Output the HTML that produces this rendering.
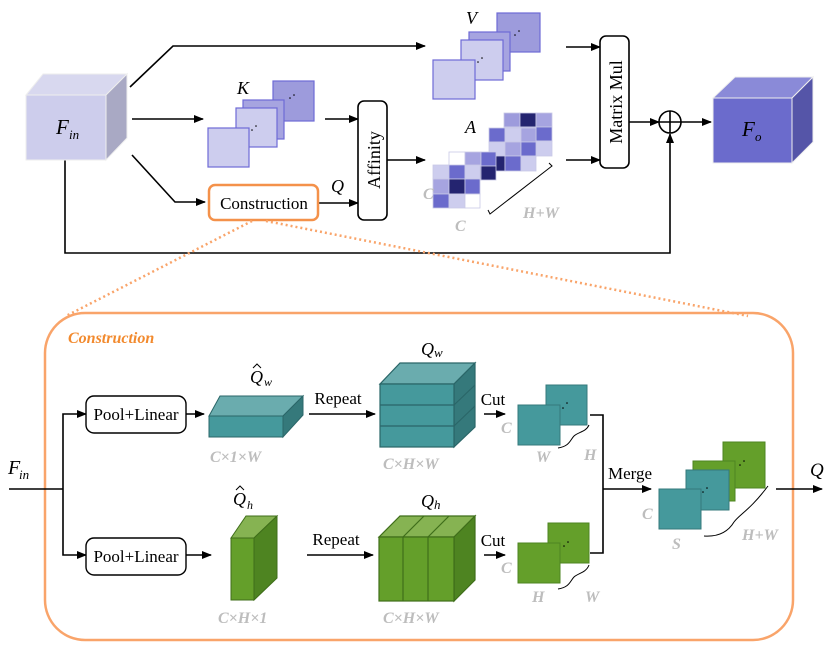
<!DOCTYPE html>
<html><head><meta charset="utf-8"><style>
body{margin:0;background:#fff}
svg{display:block}
text{font-family:"Liberation Serif",serif}
.g{fill:#bdbdbd;font-style:italic;font-weight:bold;font-size:16px}
.l{font-size:16px}
.i{font-style:italic}
</style></head><body>
<svg width="831" height="646" viewBox="0 0 831 646" xmlns="http://www.w3.org/2000/svg">
<defs>
<marker id="a" markerWidth="10" markerHeight="8" refX="9" refY="4" orient="auto" markerUnits="userSpaceOnUse"><path d="M0,0 L10,4 L0,8 z" fill="#000"/></marker>
</defs>
<g stroke="#000" stroke-width="1.6" fill="none">
<polyline points="130,87 173,46 425,46" marker-end="url(#a)"/>
<line x1="132" y1="119" x2="203" y2="119" marker-end="url(#a)"/>
<polyline points="132,155 175,202 205,202" marker-end="url(#a)"/>
<line x1="325" y1="119" x2="358" y2="119" marker-end="url(#a)"/>
<line x1="318" y1="203" x2="358" y2="203" marker-end="url(#a)"/>
<line x1="387" y1="160" x2="425" y2="160" marker-end="url(#a)"/>
<line x1="566" y1="47" x2="600" y2="47" marker-end="url(#a)"/>
<line x1="566" y1="160" x2="600" y2="160" marker-end="url(#a)"/>
<line x1="629" y1="122" x2="659" y2="122" marker-end="url(#a)"/>
<line x1="681" y1="122" x2="711" y2="122" marker-end="url(#a)"/>
<polyline points="65,160 65,253 670,253 670,134" marker-end="url(#a)"/>
<circle cx="670" cy="122" r="11" fill="#fff"/>
<line x1="659" y1="122" x2="681" y2="122"/><line x1="670" y1="111" x2="670" y2="133"/>
</g>
<polygon points="26,95 43,74 127,74 106,95" fill="#d8d8ef" stroke="#eee"/>
<polygon points="106,95 127,74 127,138 106,160" fill="#a9a9c4" stroke="#eee"/>
<rect x="26" y="95" width="80" height="65" fill="#cdcdec" stroke="#eee"/>
<text x="56" y="134" font-size="21" class="i">F</text><text x="69" y="139" font-size="13" class="i">in</text>
<g stroke="#6e6ad6" stroke-width="1.2">
<rect x="273" y="81" width="41" height="40" fill="#9d9bdc"/>
<rect x="243" y="100" width="41" height="39" fill="#a6a4e0"/>
<rect x="236" y="108" width="41" height="39" fill="#cdcdee"/>
<rect x="208" y="128" width="41" height="39" fill="#cdcdee"/>
</g>
<g fill="#000"><circle cx="290" cy="98" r="0.8"/><circle cx="294" cy="95" r="0.8"/><circle cx="252" cy="130" r="0.8"/><circle cx="256" cy="126" r="0.8"/></g>
<text x="237" y="94" class="i" font-size="18">K</text>
<g stroke="#6e6ad6" stroke-width="1.2">
<rect x="497" y="13" width="43" height="39" fill="#9d9bdc"/>
<rect x="469" y="32" width="41" height="39" fill="#a6a4e0"/>
<rect x="461" y="40" width="42" height="40" fill="#cdcdee"/>
<rect x="433" y="60" width="42" height="39" fill="#cdcdee"/>
</g>
<g fill="#000"><circle cx="515" cy="35" r="0.8"/><circle cx="519" cy="31" r="0.8"/><circle cx="478" cy="62" r="0.8"/><circle cx="482" cy="58" r="0.8"/></g>
<text x="466" y="24" class="i" font-size="18">V</text>
<rect x="358" y="101" width="29" height="119" rx="6" fill="#fff" stroke="#000" stroke-width="1.6"/>
<text transform="translate(380,160) rotate(-90)" text-anchor="middle" font-size="18">Affinity</text>
<rect x="600" y="36" width="29" height="132" rx="6" fill="#fff" stroke="#000" stroke-width="1.6"/>
<text transform="translate(622,102) rotate(-90)" text-anchor="middle" font-size="18">Matrix Mul</text>
<rect x="209" y="185" width="109" height="35" rx="6" fill="#fff" stroke="#f4914a" stroke-width="2.5"/>
<text x="264" y="209" text-anchor="middle" font-size="17">Construction</text>
<text x="331" y="192" class="i" font-size="18">Q</text>
<g stroke="#c9c9e6" stroke-width="0.8">
<g transform="translate(504,113)"><rect width="16" height="14" fill="#9d9bdc"/><rect x="16" width="16" height="14" fill="#242470"/><rect x="32" width="16" height="14" fill="#a6a4e0"/><rect y="14" width="16" height="14" fill="#cdcdee"/><rect x="16" y="14" width="16" height="14" fill="#a6a4e0"/><rect x="32" y="14" width="16" height="14" fill="#6b6bcc"/><rect y="28" width="16" height="15" fill="#6b6bcc"/><rect x="16" y="28" width="16" height="15" fill="#cdcdee"/><rect x="32" y="28" width="16" height="15" fill="#cdcdee"/></g>
<g transform="translate(489,128)"><rect width="16" height="14" fill="#6b6bcc"/><rect x="16" width="16" height="14" fill="#cdcdee"/><rect x="32" width="15" height="14" fill="#a6a4e0"/><rect y="14" width="16" height="14" fill="#cdcdee"/><rect x="16" y="14" width="16" height="14" fill="#a6a4e0"/><rect x="32" y="14" width="15" height="14" fill="#6b6bcc"/><rect y="28" width="16" height="15" fill="#242470"/><rect x="16" y="28" width="16" height="15" fill="#6b6bcc"/><rect x="32" y="28" width="15" height="15" fill="#cdcdee"/></g>
<g transform="translate(449,152)"><rect width="16" height="14" fill="#fff"/><rect x="16" width="16" height="14" fill="#a6a4e0"/><rect x="32" width="15" height="14" fill="#6b6bcc"/><rect y="14" width="16" height="14" fill="#6b6bcc"/><rect x="16" y="14" width="16" height="14" fill="#242470"/><rect x="32" y="14" width="15" height="14" fill="#242470"/></g>
<g transform="translate(433,165)"><rect width="16" height="14" fill="#cdcdee"/><rect x="16" width="16" height="14" fill="#6b6bcc"/><rect x="32" width="15" height="14" fill="#cdcdee"/><rect y="14" width="16" height="15" fill="#a6a4e0"/><rect x="16" y="14" width="16" height="15" fill="#242470"/><rect x="32" y="14" width="15" height="15" fill="#6b6bcc"/><rect y="29" width="16" height="14" fill="#6b6bcc"/><rect x="16" y="29" width="16" height="14" fill="#cdcdee"/><rect x="32" y="29" width="15" height="14" fill="#fff"/></g>
</g>
<text x="465" y="133" class="i" font-size="18">A</text>
<text x="423" y="199" class="g">C</text><text x="455" y="231" class="g">C</text>
<polyline points="488,210 490,214 552,166 549,163" fill="none" stroke="#000" stroke-width="1"/>
<text x="523" y="218" class="g">H+W</text>
<polygon points="713,98 735,77 813,77 792,98" fill="#8a8ad8" stroke="#eee"/>
<polygon points="792,98 813,77 813,142 792,163" fill="#5555a8" stroke="#eee"/>
<rect x="713" y="98" width="79" height="65" fill="#6b6bcc" stroke="#eee"/>
<text x="742" y="136" font-size="21" class="i">F</text><text x="755" y="141" font-size="13" class="i">o</text>
<g stroke="#f9a46a" stroke-width="2.5" stroke-dasharray="2,3" fill="none">
<line x1="252" y1="221" x2="66" y2="316"/>
<line x1="266" y1="221" x2="748" y2="316"/>
</g>
<rect x="45" y="313" width="748" height="327" rx="40" fill="none" stroke="#f9a46a" stroke-width="2.5"/>
<text x="68" y="343" font-size="16" font-style="italic" font-weight="bold" fill="#f28a2e">Construction</text>
<g stroke="#000" stroke-width="1.6" fill="none">
<line x1="9" y1="489" x2="63" y2="489"/>
<polyline points="63,489 63,414 86,414" marker-end="url(#a)"/>
<polyline points="63,489 63,555 86,555" marker-end="url(#a)"/>
<line x1="186" y1="414" x2="204" y2="414" marker-end="url(#a)"/>
<line x1="186" y1="555" x2="211" y2="555" marker-end="url(#a)"/>
<line x1="309" y1="414" x2="375" y2="414" marker-end="url(#a)"/>
<line x1="307" y1="555" x2="373" y2="555" marker-end="url(#a)"/>
<line x1="484" y1="414" x2="505" y2="414" marker-end="url(#a)"/>
<line x1="484" y1="555" x2="505" y2="555" marker-end="url(#a)"/>
<polyline points="590,415 603,415 603,553 590,553"/>
<line x1="603" y1="489" x2="651" y2="489" marker-end="url(#a)"/>
<line x1="776" y1="489" x2="822" y2="489" marker-end="url(#a)"/>
</g>
<text x="8" y="474" font-size="20" class="i">F</text><text x="19" y="479" font-size="13" class="i">in</text>
<rect x="86" y="396" width="100" height="37" rx="8" fill="#fff" stroke="#000" stroke-width="1.4"/>
<text x="136" y="420" text-anchor="middle" font-size="17">Pool+Linear</text>
<rect x="86" y="538" width="100" height="37" rx="8" fill="#fff" stroke="#000" stroke-width="1.4"/>
<text x="136" y="562" text-anchor="middle" font-size="17">Pool+Linear</text>
<g stroke="#2a6668" stroke-width="1">
<polygon points="209,416 220,396 303,396 283,416" fill="#6aacae"/>
<polygon points="283,416 303,396 303,415 283,437" fill="#35797b"/>
<rect x="209" y="416" width="74" height="21" fill="#45999c"/>
</g>
<text x="250" y="383" font-size="18" class="i">Q</text><path d="M253,368 L257,364 L261,368" fill="none" stroke="#000" stroke-width="1"/><text x="264" y="386" font-size="12" class="i">w</text>
<text x="210" y="462" class="g">C×1×W</text>
<text x="338" y="404" font-size="17" text-anchor="middle">Repeat</text>
<g stroke="#2a6668" stroke-width="1.2">
<polygon points="380,384 400,363 475,363 454,384" fill="#6aacae"/>
<polygon points="454,384 475,363 475,427 454,447" fill="#35797b"/>
<rect x="380" y="384" width="74" height="63" fill="#45999c"/>
<line x1="380" y1="405" x2="454" y2="405"/><line x1="380" y1="426" x2="454" y2="426"/>
<line x1="454" y1="405" x2="475" y2="385"/><line x1="454" y1="426" x2="475" y2="406"/>
</g>
<text x="421" y="355" font-size="18" class="i">Q</text><text x="434" y="357" font-size="13" class="i">w</text>
<text x="383" y="469" class="g">C×H×W</text>
<text x="493" y="405" font-size="17" text-anchor="middle">Cut</text>
<g stroke="#35797b" stroke-width="1"><rect x="546" y="385" width="41" height="40" fill="#45999c"/><rect x="518" y="405" width="42" height="40" fill="#45999c"/></g>
<g fill="#000"><circle cx="563" cy="408" r="0.8"/><circle cx="567" cy="403" r="0.8"/></g>
<text x="501" y="433" class="g">C</text><text x="536" y="462" class="g">W</text><text x="584" y="460" class="g">H</text>
<path d="M558,448 C570,446 570,440 574,436 C578,432 586,432 589,425" fill="none" stroke="#000"/>
<g stroke="#3f6e1a" stroke-width="1">
<polygon points="231,538 246,516 277,516 254,538" fill="#86b352"/>
<polygon points="254,538 277,516 277,578 254,600" fill="#4e8421"/>
<rect x="231" y="538" width="23" height="62" fill="#649f2a"/>
</g>
<text x="233" y="505" font-size="18" class="i">Q</text><path d="M236,490 L240,486 L244,490" fill="none" stroke="#000" stroke-width="1"/><text x="247" y="509" font-size="12" class="i">h</text>
<text x="218" y="623" class="g">C×H×1</text>
<text x="336" y="545" font-size="17" text-anchor="middle">Repeat</text>
<g stroke="#3f6e1a" stroke-width="1.2">
<polygon points="379,537 400,516 475,516 454,537" fill="#86b352"/>
<polygon points="454,537 475,516 475,580 454,601" fill="#4e8421"/>
<rect x="379" y="537" width="75" height="64" fill="#649f2a"/>
<line x1="403" y1="537" x2="403" y2="601"/><line x1="428" y1="537" x2="428" y2="601"/>
<line x1="403" y1="537" x2="424" y2="516"/><line x1="428" y1="537" x2="449" y2="516"/>
</g>
<text x="421" y="507" font-size="18" class="i">Q</text><text x="434" y="509" font-size="13" class="i">h</text>
<text x="383" y="623" class="g">C×H×W</text>
<text x="493" y="546" font-size="17" text-anchor="middle">Cut</text>
<g stroke="#4e8421" stroke-width="1"><rect x="548" y="523" width="41" height="40" fill="#649f2a"/><rect x="518" y="543" width="42" height="40" fill="#649f2a"/></g>
<g fill="#000"><circle cx="564" cy="546" r="0.8"/><circle cx="568" cy="542" r="0.8"/></g>
<text x="501" y="573" class="g">C</text><text x="532" y="602" class="g">H</text><text x="585" y="602" class="g">W</text>
<path d="M558,589 C570,587 570,581 574,577 C578,573 586,573 589,565" fill="none" stroke="#000"/>
<text x="608" y="479" font-size="17">Merge</text>
<g stroke-width="1">
<rect x="723" y="442" width="42" height="46" fill="#649f2a" stroke="#4e8421"/>
<rect x="693" y="461" width="42" height="40" fill="#649f2a" stroke="#4e8421"/>
<rect x="686" y="470" width="43" height="40" fill="#45999c" stroke="#35797b"/>
<rect x="659" y="489" width="42" height="40" fill="#45999c" stroke="#35797b"/>
</g>
<g fill="#000"><circle cx="740" cy="465" r="0.8"/><circle cx="744" cy="461" r="0.8"/><circle cx="703" cy="492" r="0.8"/><circle cx="707" cy="488" r="0.8"/></g>
<text x="642" y="519" class="g">C</text><text x="672" y="549" class="g">S</text><text x="742" y="540" class="g">H+W</text>
<path d="M704,536 C718,537 728,532 734,522 C740,514 750,510 768,486" fill="none" stroke="#000"/>
<text x="810" y="476" font-size="19" class="i">Q</text>
</svg>
</body></html>
